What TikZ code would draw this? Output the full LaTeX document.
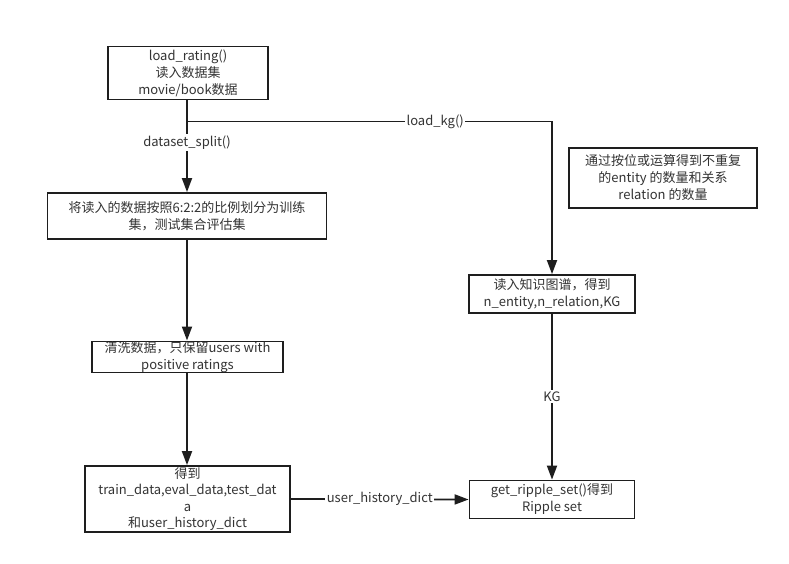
\documentclass[tikz,border=0pt]{standalone}
\usepackage{fontspec}
\setmainfont{Noto Sans CJK SC}
\usetikzlibrary{arrows.meta}
\definecolor{ln}{HTML}{1E1E1E}
\definecolor{tx}{HTML}{333333}
\tikzset{
  box/.style={draw=ln, line width=1.8pt, fill=white, text=tx, align=center, inner sep=0pt,
    font=\fontsize{13}{17}\selectfont},
  conn/.style={draw=ln, line width=1.8pt},
  arr/.style={conn, -{Triangle[width=10pt,length=14pt]}},
  lbl/.style={fill=white, text=tx, inner sep=1.5pt, font=\fontsize{13}{15}\selectfont}
}
\begin{document}
\begin{tikzpicture}[x=1pt,y=1pt]
\useasboundingbox (0,0) rectangle (789,-564);
\node[box, minimum width=160pt, minimum height=53pt] (n1) at (188,-73)
  {load\_rating()\\读入数据集\\movie/book数据};
\node[box, minimum width=279pt, minimum height=46pt] (n2) at (187,-216)
  {将读入的数据按照6:2:2的比例划分为训练\\集，测试集合评估集};
\node[box, minimum width=191pt, minimum height=31pt] (n3) at (187.5,-357)
  {清洗数据，只保留users with\\positive ratings};
\node[box, minimum width=205pt, minimum height=66pt, font=\fontsize{13}{16.3}\selectfont] (n4) at (187.5,-499)
  {得到\\train\_data,eval\_data,test\_dat\\a\\和user\_history\_dict};
\node[box, minimum width=166pt, minimum height=38pt] (nkg) at (552,-294)
  {读入知识图谱，得到\\n\_entity,n\_relation,KG};
\node[box, minimum width=165pt, minimum height=38pt] (nrp) at (552,-499.5)
  {get\_ripple\_set()得到\\Ripple set};
\node[box, minimum width=188pt, minimum height=60pt] (note) at (663,-178)
  {通过按位或运算得到不重复\\的entity 的数量和关系\\relation 的数量};
\coordinate (br) at (187,-121.5);
\coordinate (kc) at (552,-121.5);
\draw[conn] (n1.south -| br) -- (br);
\draw[arr] (br) -- node[lbl, pos=0.3]{dataset\_split()} (n2.north -| br);
\draw[conn] (br) -- node[lbl, pos=0.68]{load\_kg()} (kc);
\draw[arr] (kc) -- (nkg.north);
\draw[arr] (n2.south -| br) -- (n3.north -| br);
\draw[arr] (n3.south -| br) -- (n4.north -| br);
\draw[arr] (nkg.south) -- node[lbl, pos=0.5]{KG} (nrp.north);
\draw[arr] (n4.east) -- node[lbl, pos=0.5]{user\_history\_dict} (nrp.west);
\end{tikzpicture}
\end{document}
